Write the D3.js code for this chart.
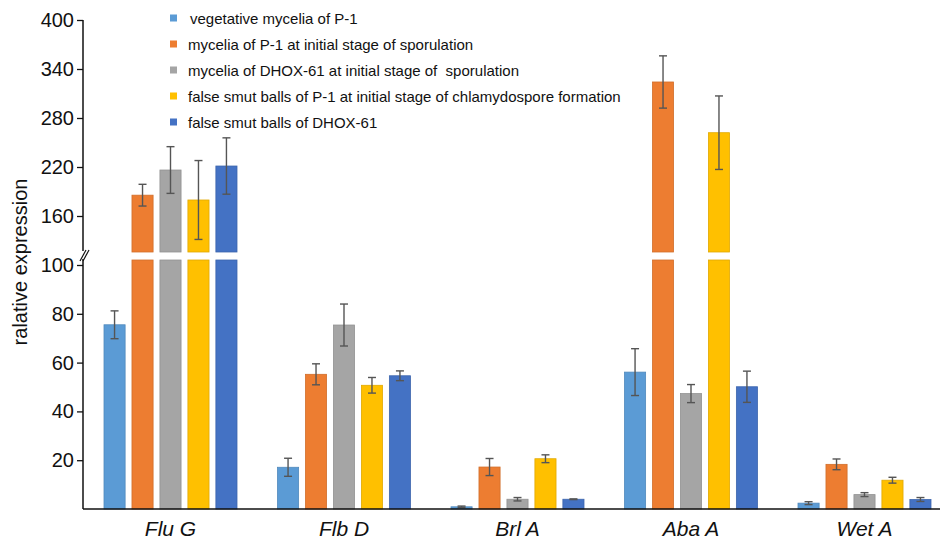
<!DOCTYPE html>
<html>
<head>
<meta charset="utf-8">
<script src="https://cdn.jsdelivr.net/npm/d3@7/dist/d3.min.js"></script>
<style>
  html, body { margin: 0; padding: 0; background: #fff; }
  svg { display: block; font-family: Arial, "Liberation Sans", sans-serif; }
</style>
</head>
<body>
<svg id="chart" width="943" height="539"></svg>
<script>
// ---- data ----
const categories = ["Flu G", "Flb D", "Brl A", "Aba A", "Wet A"];
const seriesNames = [
  "vegetative mycelia of P-1",
  "mycelia of P-1 at initial stage of sporulation",
  "mycelia of DHOX-61 at initial stage of  sporulation",
  "false smut balls of P-1 at initial stage of chlamydospore formation",
  "false smut balls of DHOX-61"
];
const seriesColors = ["#5B9BD5", "#ED7D31", "#A5A5A5", "#FFC000", "#4472C4"];
const vegetativeP1      = [75.5, 17.1, 0.9, 56.1, 2.4];
const vegetativeP1Err   = [5.7, 3.7, 0.3, 9.6, 0.6];
const sporP1            = [185.5, 55.2, 17.2, 324.1, 18.3];
const sporP1Err         = [13.3, 4.3, 3.5, 32, 2.2];
const sporDHOX          = [216.3, 75.4, 4.0, 47.3, 5.9];
const sporDHOXErr       = [28.6, 8.6, 0.7, 3.7, 0.8];
const ballsP1           = [179.6, 50.7, 20.6, 262.0, 11.8];
const ballsP1Err        = [48.3, 3.2, 1.6, 45, 1.2];
const ballsDHOX         = [221.2, 54.6, 4.0, 50.1, 3.9];
const ballsDHOXErr      = [34.5, 2.0, 0.15, 6.4, 0.8];
const lowerTicks = [20, 40, 60, 80, 100];
const upperTicks = [160, 220, 280, 340, 400];
const yTitle = "ralative expression";

const values = [vegetativeP1, sporP1, sporDHOX, ballsP1, ballsDHOX];
const errors = [vegetativeP1Err, sporP1Err, sporDHOXErr, ballsP1Err, ballsDHOXErr];

// ---- layout ----
const svg = d3.select("#chart");
const axisX = 83, baseY = 509;
const lowerTop = 260, upperBottom = 252;

const yLow = d3.scaleLinear().domain([0, 100]).range([baseY, 265]);
const yUp = d3.scaleLinear().domain([160, 400]).range([216, 20]);
const lowMax = yLow.invert(lowerTop);

const x0 = d3.scaleBand().domain(categories).range([83.75, 83.75 + 173.5 * 5]).padding(0);
const x1 = d3.scaleBand().domain(d3.range(5)).range([-66.5, 66.5]).paddingInner(0.245).paddingOuter(0);

// bars
const bars = [];
categories.forEach((c, ci) => {
  values.forEach((arr, si) => {
    bars.push({cat: c, s: si, v: arr[ci], e: errors[si][ci]});
  });
});

const g = svg.append("g");
bars.forEach(b => {
  const cx = x0(b.cat) + x0.bandwidth() / 2;
  const bx = cx + x1(b.s);
  const bw = x1.bandwidth();
  const col = seriesColors[b.s];
  const stroke = d3.color(col).darker(0.35);
  if (b.v <= lowMax) {
    g.append("rect").attr("x", bx).attr("y", yLow(b.v)).attr("width", bw)
      .attr("height", baseY - yLow(b.v)).attr("fill", col).attr("stroke", stroke).attr("stroke-width", 0.8);
  } else {
    g.append("rect").attr("x", bx).attr("y", lowerTop).attr("width", bw)
      .attr("height", baseY - lowerTop).attr("fill", col).attr("stroke", stroke).attr("stroke-width", 0.8);
    g.append("rect").attr("x", bx).attr("y", yUp(b.v)).attr("width", bw)
      .attr("height", upperBottom - yUp(b.v)).attr("fill", col).attr("stroke", stroke).attr("stroke-width", 0.8);
  }
  // error bars
  const sc = b.v <= lowMax ? yLow : yUp;
  const ex = bx + bw / 2;
  const yt = sc(b.v + b.e), yb = sc(b.v - b.e);
  const eg = g.append("g").attr("stroke", "#555").attr("stroke-width", 1.4);
  if (Math.abs(yb - yt) > 1.2) {
    eg.append("line").attr("x1", ex).attr("x2", ex).attr("y1", yt).attr("y2", yb);
  }
  [yt, yb].forEach(yy => eg.append("line").attr("x1", ex - 4).attr("x2", ex + 4).attr("y1", yy).attr("y2", yy));
});

// axes
const axisCol = "#111";
const lowAxis = d3.axisLeft(yLow).tickValues(lowerTicks).tickSize(6).tickPadding(3);
const upAxis = d3.axisLeft(yUp).tickValues(upperTicks).tickSize(6).tickPadding(3);
[[lowAxis, [baseY, 259]], [upAxis, [20, 251]]].forEach(([ax, ext]) => {
  const a = svg.append("g").attr("transform", `translate(${axisX},0)`).call(ax);
  a.select(".domain").remove();
  a.append("line").attr("x1", 0).attr("x2", 0).attr("y1", ext[0]).attr("y2", ext[1])
    .attr("stroke", axisCol).attr("stroke-width", 1.5);
  a.selectAll(".tick line").attr("stroke", axisCol).attr("stroke-width", 1.3);
  a.selectAll(".tick text").attr("fill", "#111").style("font-size", "20px")
    .style("font-family", "Arial, 'Liberation Sans', sans-serif");
});
// break marks
[0, 3].forEach(d => {
  svg.append("line").attr("x1", axisX - 3 + d).attr("y1", 261).attr("x2", axisX + 3 + d).attr("y2", 250)
    .attr("stroke", axisCol).attr("stroke-width", 1.2);
});

// x axis baseline
svg.append("line").attr("x1", axisX).attr("x2", 940).attr("y1", baseY).attr("y2", baseY)
  .attr("stroke", axisCol).attr("stroke-width", 1.5);
const xAxis = d3.axisBottom(x0).tickSize(0).tickPadding(12);
const xa = svg.append("g").attr("transform", `translate(0,${baseY})`).call(xAxis);
xa.select(".domain").remove();
xa.selectAll(".tick text").attr("fill", "#111").style("font-size", "21px").style("font-style", "italic")
  .style("font-family", "Arial, 'Liberation Sans', sans-serif");

// y title
svg.append("text").attr("transform", "translate(27,262) rotate(-90)")
  .attr("text-anchor", "middle").style("font-size", "20px").attr("fill", "#111").text(yTitle);

// legend
const leg = svg.append("g");
seriesNames.forEach((n, i) => {
  const yy = 18 + i * 26;
  leg.append("rect").attr("x", 170).attr("y", yy - 3.5).attr("width", 7).attr("height", 7).attr("fill", seriesColors[i]);
  leg.append("text").attr("x", i === 0 ? 190 : 188).attr("y", yy + 5.5)
    .style("font-size", "15px").style("white-space", "pre").attr("fill", "#111").text(n);
});
</script>
</body>
</html>
